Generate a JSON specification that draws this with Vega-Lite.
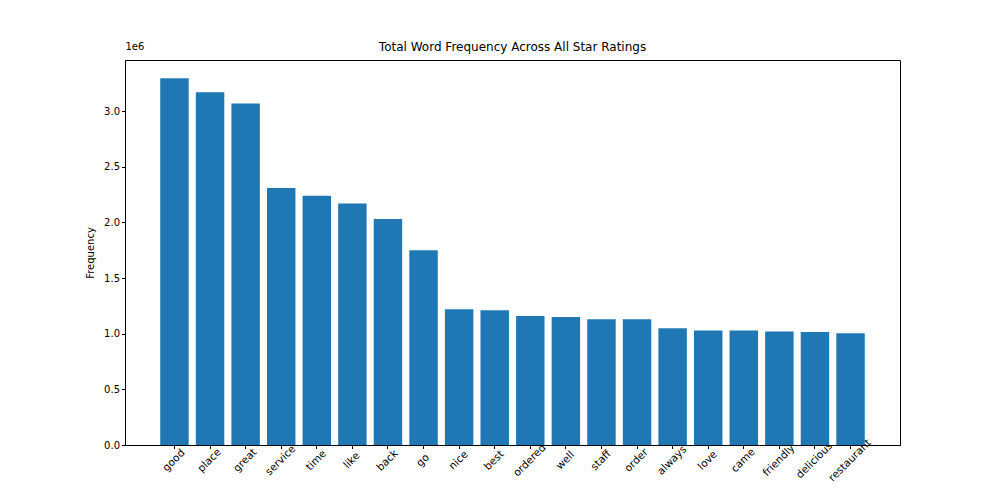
{
"$schema":"https://vega.github.io/schema/vega-lite/v6.json",
"width":775,"height":385,
"autosize":{"type":"none"},
"padding":{"left":125,"top":60,"right":100,"bottom":55},
"background":"white",
"config":{"font":"DejaVu Sans","view":{"stroke":"black","strokeWidth":1},
"axis":{"grid":false,"domainColor":"black","tickColor":"black","labelColor":"black","labelFontSize":10,"titleFontSize":10,"titleFontWeight":"normal","titleColor":"black","tickSize":3.5}},
"title":{"text":"Total Word Frequency Across All Star Ratings","fontSize":12,"fontWeight":"normal","offset":-13},
"data":{"values":[
{"word":"good","freq":3297000},{"word":"place","freq":3170000},{"word":"great","freq":3070000},{"word":"service","freq":2310000},{"word":"time","freq":2240000},{"word":"like","freq":2170000},{"word":"back","freq":2030000},{"word":"go","freq":1750000},{"word":"nice","freq":1220000},{"word":"best","freq":1210000},{"word":"ordered","freq":1160000},{"word":"well","freq":1150000},{"word":"staff","freq":1130000},{"word":"order","freq":1130000},{"word":"always","freq":1050000},{"word":"love","freq":1030000},{"word":"came","freq":1030000},{"word":"friendly","freq":1020000},{"word":"delicious","freq":1015000},{"word":"restaurant","freq":1005000}
]},
"layer":[
{"mark":{"type":"bar","color":"#1f77b4"},
"encoding":{
"x":{"field":"word","type":"nominal","sort":null,"title":null,"scale":{"paddingInner":0.2,"paddingOuter":0.99},"axis":{"labelAngle":-45,"labelAlign":"center","labelBaseline":"top","labelPadding":8,"labelFontSize":10.5,"labelOffset":-4}},
"y":{"field":"freq","type":"quantitative","scale":{"domain":[0,3460000],"nice":false,"zero":true},"title":"Frequency","axis":{"values":[0,500000,1000000,1500000,2000000,2500000,3000000],"labelExpr":"format(datum.value/1e6,'.1f')","titlePadding":8}}
}},
{"mark":{"type":"rule","opacity":0},
"encoding":{"y":{"datum":0,"type":"quantitative","scale":{"domain":[0,3460000]},"axis":{"title":"1e6","orient":"left","titleAngle":0,"titleX":0,"titleY":-9,"titleAlign":"left","titleFontSize":10,"labels":false,"ticks":false,"domain":false}}}}
],
"resolve":{"scale":{"y":"shared"},"axis":{"y":"independent"}}
}
